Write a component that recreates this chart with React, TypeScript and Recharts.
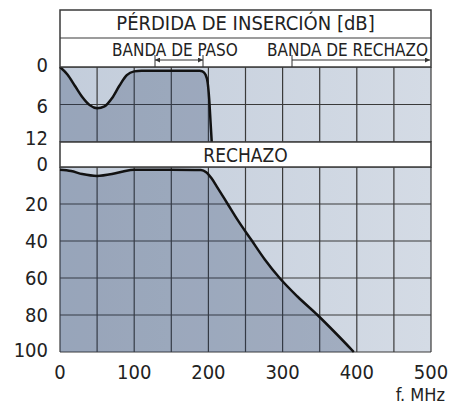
import { Area, CartesianGrid, ComposedChart, XAxis, YAxis } from "recharts";

const FONT = '"DejaVu Sans Condensed", "Open Sans", sans-serif';

// insertion loss (upper panel), dB vs MHz
const lossFreq = [0, 10, 20, 30, 40, 50, 60, 70, 80, 90, 100, 110, 150, 188, 192, 196, 199, 201, 203, 204.5];
const lossDb = [0, 1.2, 3.0, 4.8, 6.1, 6.6, 6.3, 5.0, 3.0, 1.3, 0.7, 0.6, 0.6, 0.6, 0.7, 1.2, 2.5, 5, 9, 12];

// rejection (lower panel), dB vs MHz
const rejFreq = [0, 15, 30, 50, 70, 85, 100, 150, 190, 197, 204, 212, 226, 240, 258, 276, 296, 320, 347, 372, 396];
const rejDb = [1.5, 2.2, 3.8, 4.8, 3.8, 2.4, 1.5, 1.5, 1.6, 2.8, 6, 11, 20, 29, 39.5, 50, 60, 70, 80, 90, 100];

const freqGrid = [0, 50, 100, 150, 200, 250, 300, 350, 400, 450, 500];
const lossTicks = [0, 3, 6, 9, 12];
const lossLabels = [0, 6, 12];
const rejTicks = [0, 20, 40, 60, 80, 100];

const lossData = lossFreq.map((f, i) => ({ f, v: lossDb[i] }));
const rejData = rejFreq.map((f, i) => ({ f, v: rejDb[i] }));

const GRID = "#3a3a3a";
const CURVE = "#121212";
const SHADE = "rgba(40,60,100,0.28)";

function makeYTick(labels: number[], shift: Record<number, number>) {
  return (props: any) => {
    const { x, y, payload } = props;
    const v = payload.value as number;
    if (!labels.includes(v)) return <g />;
    return (
      <text x={x} y={y + (shift[v] ?? 0)} dy="0.36em" textAnchor="end" fill="#222" fontSize={20} fontFamily={FONT}>
        {v}
      </text>
    );
  };
}

const XTick = (props: any) => {
  const { x, y, payload } = props;
  const v = payload.value as number;
  if (v % 100 !== 0) return <g />;
  return (
    <text x={x} y={y + 27} textAnchor="middle" fill="#222" fontSize={20} fontFamily={FONT}>
      {v}
    </text>
  );
};

function Gradient({ id }: { id: string }) {
  return (
    <defs>
      <linearGradient id={id} x1="0" y1="0" x2="1" y2="0">
        <stop offset="0%" stopColor="#c3cddb" />
        <stop offset="100%" stopColor="#d4dbe5" />
      </linearGradient>
    </defs>
  );
}

export default function App() {
  return (
    <div style={{ position: "absolute", left: 0, top: 0, width: 449, height: 408, background: "#fff" }}>
      <div style={{ position: "absolute", left: 0, top: 0 }}>
        <ComposedChart width={449} height={160} data={lossData} margin={{ top: 67, right: 18, bottom: 18, left: 0 }}>
          <Gradient id="bgTop" />
          <CartesianGrid stroke={GRID} strokeWidth={1.2} fill="url(#bgTop)" fillOpacity={1} />
          <XAxis dataKey="f" type="number" domain={[0, 500]} ticks={freqGrid} hide />
          <YAxis
            type="number"
            domain={[0, 12]}
            reversed
            ticks={lossTicks}
            width={60}
            tickSize={0}
            tickMargin={12}
            axisLine={false}
            tickLine={false}
            allowDataOverflow
            tick={makeYTick(lossLabels, { 0: -2, 6: 1, 12: -4 })}
          />
          <Area
            type="monotone"
            dataKey="v"
            baseValue={12}
            stroke={CURVE}
            strokeWidth={2.5}
            fill={SHADE}
            fillOpacity={1}
            isAnimationActive={false}
            dot={false}
            activeDot={false}
          />
        </ComposedChart>
      </div>
      <div style={{ position: "absolute", left: 0, top: 0 }}>
        <ComposedChart width={449} height={408} data={rejData} margin={{ top: 167, right: 18, bottom: 0, left: 0 }}>
          <Gradient id="bgBot" />
          <CartesianGrid stroke={GRID} strokeWidth={1.2} fill="url(#bgBot)" fillOpacity={1} />
          <XAxis
            dataKey="f"
            type="number"
            domain={[0, 500]}
            ticks={freqGrid}
            height={56}
            tickSize={0}
            tickMargin={0}
            axisLine={false}
            tickLine={false}
            interval={0}
            tick={XTick}
          />
          <YAxis
            type="number"
            domain={[0, 100]}
            reversed
            ticks={rejTicks}
            width={60}
            tickSize={0}
            tickMargin={12}
            axisLine={false}
            tickLine={false}
            tick={makeYTick(rejTicks, { 0: -3, 100: -2.5 })}
          />
          <Area
            type="monotone"
            dataKey="v"
            baseValue={100}
            stroke={CURVE}
            strokeWidth={2.5}
            fill={SHADE}
            fillOpacity={1}
            isAnimationActive={false}
            dot={false}
            activeDot={false}
          />
        </ComposedChart>
      </div>
      <svg width={449} height={408} style={{ position: "absolute", left: 0, top: 0, pointerEvents: "none" }}>
        <defs>
          <marker id="ah" viewBox="0 0 10 10" refX="10" refY="5" markerWidth="7" markerHeight="5" orient="auto-start-reverse">
            <path d="M0,0 L10,5 L0,10 z" fill="#333" />
          </marker>
        </defs>
        <rect x={60} y={10} width={371} height={57} fill="#fff" stroke={GRID} strokeWidth={1.5} />
        <line x1={60} y1={38} x2={431} y2={38} stroke={GRID} strokeWidth={1.2} />
        <text x={245.5} y={30} textAnchor="middle" fontSize={20} fontFamily={FONT} fill="#222">
          PÉRDIDA DE INSERCIÓN [dB]
        </text>
        <text x={112} y={56} fontSize={17} fontFamily={FONT} fill="#222">
          BANDA DE PASO
        </text>
        <text x={428} y={56} textAnchor="end" fontSize={17} fontFamily={FONT} fill="#222">
          BANDA DE RECHAZO
        </text>
        <line x1={155} y1={55} x2={155} y2={67} stroke="#333" strokeWidth={1} />
        <line x1={203} y1={55} x2={203} y2={67} stroke="#333" strokeWidth={1} />
        <line x1={155} y1={60} x2={203} y2={60} stroke="#333" strokeWidth={1} markerStart="url(#ah)" markerEnd="url(#ah)" />
        <line x1={292} y1={55} x2={292} y2={67} stroke="#333" strokeWidth={1} />
        <line x1={292} y1={60} x2={430} y2={60} stroke="#333" strokeWidth={1} markerEnd="url(#ah)" />
        <rect x={60} y={142} width={371} height={25} fill="#fff" stroke={GRID} strokeWidth={1.5} />
        <text x={245.5} y={162} textAnchor="middle" fontSize={19} fontFamily={FONT} fill="#222">
          RECHAZO
        </text>
        <text x={445} y={401} textAnchor="end" fontSize={18} fontFamily={FONT} fill="#222">
          f. MHz
        </text>
      </svg>
    </div>
  );
}
